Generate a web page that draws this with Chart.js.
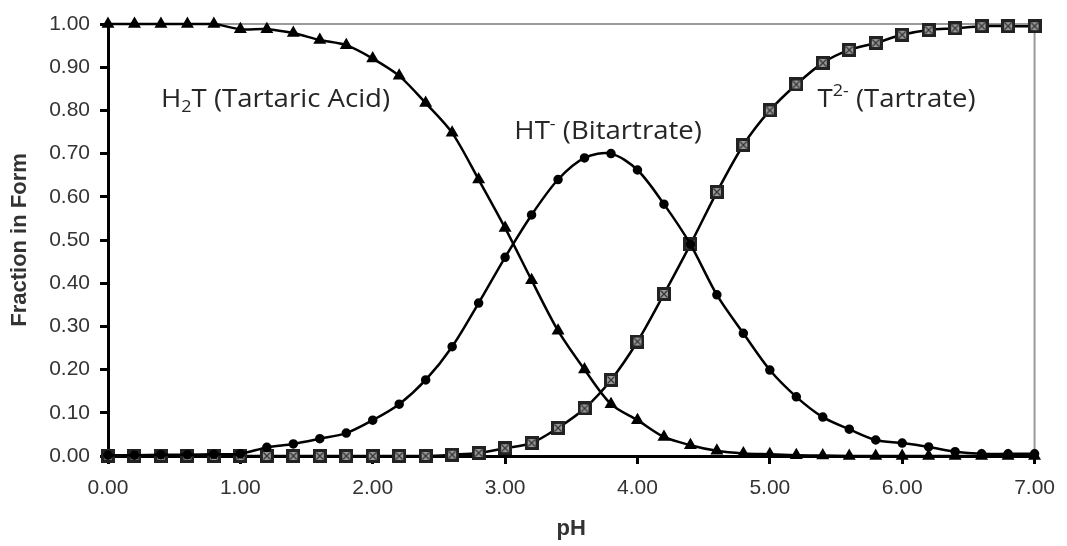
<!DOCTYPE html>
<html>
<head>
<meta charset="utf-8">
<script src="https://cdn.jsdelivr.net/npm/chart.js@4.4.1/dist/chart.umd.min.js"></script>
<style>
  html, body { margin: 0; padding: 0; background: #fff; }
  #wrap { width: 1067px; height: 546px; position: relative; }
</style>
</head>
<body>
<div id="wrap"><canvas id="chart" width="1067" height="546"></canvas></div>
<script>
// Dados (fração de cada espécie vs pH)
const phValues = [0.0, 0.2, 0.4, 0.6, 0.8, 1.0, 1.2, 1.4, 1.6, 1.8,
                  2.0, 2.2, 2.4, 2.6, 2.8, 3.0, 3.2, 3.4, 3.6, 3.8,
                  4.0, 4.2, 4.4, 4.6, 4.8, 5.0, 5.2, 5.4, 5.6, 5.8,
                  6.0, 6.2, 6.4, 6.6, 6.8, 7.0];
const h2tValues = [1.00, 1.00, 1.00, 1.00, 1.00, 0.988, 0.988, 0.979, 0.963, 0.951,
                   0.92, 0.88, 0.817, 0.748, 0.64, 0.528, 0.407, 0.29, 0.20, 0.12,
                   0.083, 0.044, 0.025, 0.012, 0.006, 0.004, 0.002, 0.001, 0, 0,
                   0, 0, 0, 0, 0, 0];
const htValues = [0.002, 0.002, 0.003, 0.003, 0.004, 0.005, 0.02, 0.028, 0.04, 0.053,
                  0.083, 0.12, 0.176, 0.253, 0.354, 0.46, 0.558, 0.64, 0.69, 0.70,
                  0.662, 0.583, 0.49, 0.373, 0.284, 0.199, 0.137, 0.09, 0.062, 0.037,
                  0.03, 0.021, 0.01, 0.005, 0.005, 0.005];
const tValues = [0, 0, 0, 0, 0, 0, 0, 0, 0, 0,
                 0, 0, 0, 0.003, 0.007, 0.018, 0.03, 0.065, 0.11, 0.176,
                 0.265, 0.375, 0.49, 0.611, 0.72, 0.80, 0.86, 0.91, 0.94, 0.956,
                 0.975, 0.986, 0.99, 0.995, 0.995, 0.995];

// Rótulos das curvas (texto com sub/sobrescrito)
const curveLabels = [
    { x: 0.40, y: 0.826, parts: [['H'], ['2', 'sub'], ['T (Tartaric Acid)']] },
    { x: 3.07, y: 0.750, parts: [['HT'], ['-', 'sup'], [' (Bitartrate)']] },
    { x: 5.36, y: 0.826, parts: [['T'], ['2-', 'sup'], [' (Tartrate)']] }
];

const toPoints = (ys) => phValues.map((x, i) => ({ x: x, y: ys[i] }));

// Marcador quadrado com X (série T2-)
const makeBoxMarker = () => {
    const c = document.createElement('canvas');
    c.width = 14; c.height = 14;
    const g = c.getContext('2d');
    g.fillStyle = '#222';
    g.fillRect(0, 0, 14, 14);
    g.fillStyle = '#9a9a9a';
    g.fillRect(3, 3, 8, 8);
    g.strokeStyle = '#333';
    g.lineWidth = 1.2;
    g.beginPath();
    g.moveTo(3.5, 3.5); g.lineTo(10.5, 10.5);
    g.moveTo(10.5, 3.5); g.lineTo(3.5, 10.5);
    g.stroke();
    return c;
};

// Moldura cinza (topo e direita) + rótulos das curvas
const framePlugin = {
    id: 'frame',
    beforeDatasetsDraw(chart) {
        const { ctx, chartArea: a } = chart;
        ctx.save();
        ctx.strokeStyle = '#9a9a9a';
        ctx.lineWidth = 2;
        ctx.beginPath();
        ctx.moveTo(a.left, a.top);
        ctx.lineTo(a.right, a.top);
        ctx.lineTo(a.right, a.bottom);
        ctx.stroke();
        ctx.restore();
    },
    afterDatasetsDraw(chart) {
        const { ctx, scales } = chart;
        const size = 26;
        const stretch = 1.06;
        ctx.save();
        ctx.fillStyle = '#262626';
        ctx.textBaseline = 'middle';
        curveLabels.forEach(lbl => {
            const x0 = scales.x.getPixelForValue(lbl.x);
            const py = scales.y.getPixelForValue(lbl.y);
            let px = 0;
            ctx.save();
            ctx.translate(x0, py);
            ctx.scale(stretch, 1);
            lbl.parts.forEach(([txt, kind]) => {
                const s = kind ? Math.round(size * 0.64) : size;
                ctx.font = s + 'px "Open Sans", sans-serif';
                const dy = kind === 'sub' ? size * 0.3 : kind === 'sup' ? -size * 0.3 : 0;
                ctx.fillText(txt, px, dy);
                px += ctx.measureText(txt).width;
            });
            ctx.restore();
        });
        ctx.restore();
    }
};

const tickFont = { family: '"Liberation Sans", Arial, sans-serif', size: 21 };
const titleFont = { family: '"Liberation Sans", Arial, sans-serif', size: 22, weight: 'bold' };

new Chart(document.getElementById('chart'), {
    type: 'line',
    data: {
        datasets: [
            {
                label: 'H2T',
                data: toPoints(h2tValues),
                borderColor: '#000',
                borderWidth: 2.5,
                pointStyle: 'triangle',
                pointRadius: 5,
                pointBackgroundColor: '#000',
                pointBorderColor: '#000',
                tension: 0.3,
                clip: false
            },
            {
                label: 'HT-',
                data: toPoints(htValues),
                borderColor: '#000',
                borderWidth: 2.5,
                pointStyle: 'circle',
                pointRadius: 3.5,
                pointBackgroundColor: '#000',
                pointBorderColor: '#000',
                tension: 0.3,
                clip: false
            },
            {
                label: 'T2-',
                data: toPoints(tValues),
                borderColor: '#000',
                borderWidth: 2.5,
                pointStyle: makeBoxMarker(),
                pointRadius: 7,
                tension: 0.3,
                clip: false
            }
        ]
    },
    options: {
        responsive: false,
        animation: false,
        layout: { padding: { left: 0, right: 26, top: 24, bottom: 0 } },
        plugins: {
            legend: { display: false },
            tooltip: { enabled: false }
        },
        scales: {
            x: {
                type: 'linear',
                min: 0,
                max: 7,
                border: { color: '#000', width: 3 },
                grid: { drawOnChartArea: false, color: '#000', tickLength: 8, tickWidth: 3 },
                ticks: {
                    stepSize: 1,
                    color: '#333',
                    font: tickFont,
                    padding: 12,
                    maxRotation: 0,
                    callback: v => v.toFixed(2)
                },
                title: { display: true, text: 'pH', color: '#333', font: titleFont, padding: { top: 0, bottom: 4 } },
                afterFit: (s) => { s.height = 90; }
            },
            y: {
                min: 0,
                max: 1,
                border: { color: '#000', width: 3 },
                grid: { drawOnChartArea: false, color: '#000', tickLength: 8, tickWidth: 3 },
                ticks: {
                    stepSize: 0.1,
                    color: '#333',
                    font: tickFont,
                    padding: 10,
                    callback: v => v.toFixed(2)
                },
                title: { display: true, text: 'Fraction in Form', color: '#333', font: titleFont, padding: { top: 7, bottom: 0 } },
                afterFit: (s) => { s.width = 108; }
            }
        }
    },
    plugins: [framePlugin]
});
</script>
</body>
</html>
